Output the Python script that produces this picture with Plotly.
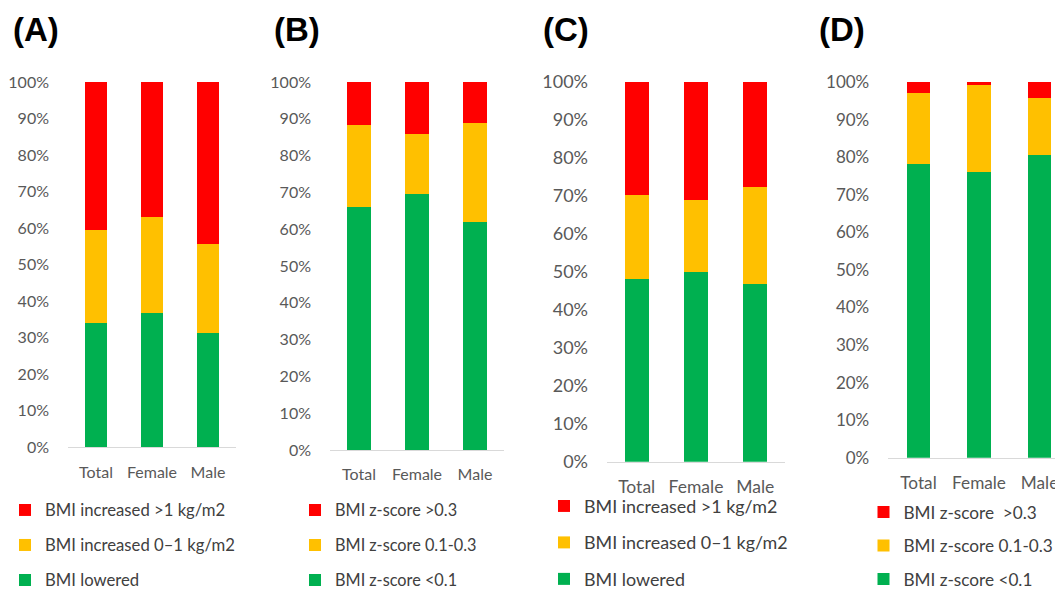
import plotly.graph_objects as go

categories = ["Total", "Female", "Male"]

# Panel A: BMI change (kg/m2)
a_lowered = [33.9, 36.7, 31.1]
a_inc_0_1 = [25.5, 26.4, 24.5]
a_inc_gt1 = [40.6, 36.9, 44.4]

# Panel B: BMI z-score
b_lt01 = [66.0, 69.5, 62.0]
b_01_03 = [22.4, 16.3, 26.9]
b_gt03 = [11.6, 14.2, 11.1]

# Panel C: BMI change (kg/m2)
c_lowered = [48.1, 49.9, 46.8]
c_inc_0_1 = [22.2, 19.0, 25.5]
c_inc_gt1 = [29.7, 31.1, 27.7]

# Panel D: BMI z-score
d_lt01 = [78.1, 76.0, 80.5]
d_01_03 = [19.1, 23.1, 15.3]
d_gt03 = [2.8, 0.9, 4.2]

names_kg = ["BMI lowered", "BMI increased 0\u20131 kg/m2", "BMI increased >1 kg/m2"]
names_z_b = ["BMI z-score <0.1", "BMI z-score 0.1-0.3", "BMI z-score >0.3"]
names_z_d = ["BMI z-score <0.1", "BMI z-score 0.1-0.3", "BMI z-score  >0.3"]
panel_titles = ["(A)", "(B)", "(C)", "(D)"]

GREEN, YELLOW, RED = "#00B050", "#FFC000", "#FF0000"
colors = [GREEN, YELLOW, RED]
FONT = "Lato, Open Sans, sans-serif"
GRAY = "#595959"

# page is 1063x589 with an 8px body margin -> figure 1055x581
W, H = 1055, 581

panels = [
    dict(series=[a_lowered, a_inc_0_1, a_inc_gt1], names=names_kg, x=(60, 228), ybot=439,
         width=0.385, yfs=16, xfs=16, lfs=16.7, leg=(-3, 484.6), gap=10.3, xs=11,
         xr=[-0.5, 2.5], tx=3),
    dict(series=[b_lt01, b_01_03, b_gt03], names=names_z_b, x=(322, 496), ybot=442,
         width=0.40, yfs=16, xfs=16, lfs=16.3, leg=(287, 484.9), gap=10.8, xs=10,
         xr=[-0.5, 2.5], tx=264),
    dict(series=[c_lowered, c_inc_0_1, c_inc_gt1], names=names_kg, x=(599, 777), ybot=453.7,
         width=0.405, yfs=18, xfs=17.5, lfs=17.9, leg=(536, 479.8), gap=10.2, xs=9,
         xr=[-0.5, 2.5], tx=533),
    dict(series=[d_lt01, d_01_03, d_gt03], names=names_z_d, x=(880.25, 1055), ybot=449.7,
         width=0.393, yfs=17, xfs=17.2, lfs=17.2, leg=(855.5, 486.3), gap=8.1, xs=10,
         xr=[-0.5, 2.388], tx=809),
]

fig = go.Figure()
layout = dict(
    width=W, height=H, margin=dict(l=0, r=0, t=0, b=0, autoexpand=False),
    paper_bgcolor="white", plot_bgcolor="white",
    barmode="stack", showlegend=True,
    font=dict(family=FONT, color=GRAY),
)
annotations = []
for i, p in enumerate(panels):
    k = "" if i == 0 else str(i + 1)
    legname = "legend" if i == 0 else f"legend{i + 1}"
    for j, (vals, nm) in enumerate(zip(p["series"], p["names"])):
        fig.add_trace(go.Bar(
            x=categories, y=vals, name=nm, marker=dict(color=colors[j], line=dict(width=0)),
            width=p["width"], xaxis="x" + k, yaxis="y" + k, legend=legname,
            legendgroup=f"p{i}g{j}", legendrank=3 - j,
        ))
    layout["xaxis" + k] = dict(
        domain=[p["x"][0] / W, p["x"][1] / W], anchor="y" + k, range=p["xr"],
        showline=True, linecolor="#D9D9D9", linewidth=1, ticks="",
        tickfont=dict(family=FONT, size=p["xfs"], color=GRAY), ticklabelstandoff=p["xs"],
        showgrid=False, zeroline=False, fixedrange=True,
    )
    layout["yaxis" + k] = dict(
        domain=[(H - p["ybot"]) / H, (H - 74) / H], anchor="x" + k, range=[0, 100],
        dtick=10, ticksuffix="%", showgrid=False, zeroline=False, showline=False,
        ticks="", tickfont=dict(family=FONT, size=p["yfs"], color=GRAY),
        ticklabelstandoff=18, fixedrange=True,
    )
    layout[legname] = dict(
        x=p["leg"][0] / W, y=(H - p["leg"][1]) / H, xanchor="left", yanchor="top",
        traceorder="grouped", tracegroupgap=p["gap"], bgcolor="rgba(0,0,0,0)",
        font=dict(family=FONT, size=p["lfs"], color="#404040"), itemclick=False,
    )
    annotations.append(dict(
        text=f"<b>{panel_titles[i]}</b>", x=p["tx"] / W, y=(H - 22) / H, xref="paper", yref="paper",
        xanchor="left", yanchor="middle", showarrow=False,
        font=dict(family="Liberation Sans, Arial, sans-serif", size=33, color="black"),
    ))
layout["annotations"] = annotations
fig.update_layout(**layout)
fig.write_html("out.html")
